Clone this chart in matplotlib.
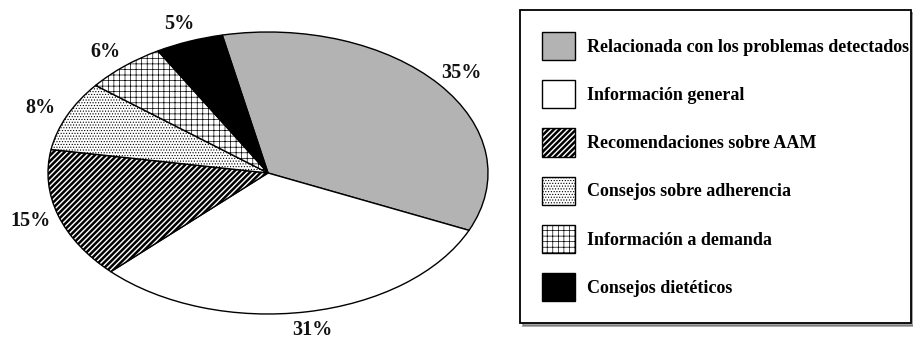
import matplotlib
matplotlib.use("Agg")
import matplotlib.pyplot as plt

# slices, clockwise from the top
categories = [
    "Relacionada con los problemas detectados",
    "Información general",
    "Recomendaciones sobre AAM",
    "Consejos sobre adherencia",
    "Información a demanda",
    "Consejos dietéticos",
]
values = [35, 31, 15, 8, 6, 5]
colours = ["#b3b3b3", "white", "white", "white", "white", "black"]
hatches = [None, None, "//////", "......", "+++", None]
hatch_widths = [1.0, 1.0, 1.8, 0.5, 0.5, 1.0]

SERIF = ["Liberation Serif", "DejaVu Serif"]

fig = plt.figure(figsize=(9.13, 3.4), dpi=100)
ax = fig.add_axes([0, 0, 510 / 913, 1])

wedges, texts, autotexts = ax.pie(
    values, startangle=102, counterclock=False, colors=colours,
    hatch=hatches, autopct=lambda p: "%.0f%%" % p, pctdistance=1.13,
    wedgeprops=dict(edgecolor="black", linewidth=1.0),
    textprops=dict(family=SERIF, fontweight="bold", fontsize=14.5, color="#111111"))

for w, hw in zip(wedges, hatch_widths):
    if hasattr(w, "set_hatch_linewidth"):
        w.set_hatch_linewidth(hw)

# squash the circle into the flat ellipse of the original
ax.set_aspect("auto")
ax.set_xlim(-268 / 220, 242 / 220)
ax.set_ylim(-167 / 141, 173 / 141)
ax.axis("off")

# legend box fills the right-hand side, with a drop shadow like the original
leg = fig.legend(wedges, categories, loc="upper left",
                 bbox_to_anchor=(520 / 913, 18 / 340, 391 / 913, 312 / 340),
                 mode="expand", prop=dict(family=SERIF, weight="bold", size=13),
                 handlelength=1.83, handleheight=2.02, handletextpad=0.67,
                 labelspacing=1.11, borderpad=1.22, borderaxespad=0.0,
                 frameon=True, fancybox=False, shadow=True)
leg.get_frame().set_edgecolor("black")
leg.get_frame().set_linewidth(1.3)
for h, hw in zip(leg.legend_handles, hatch_widths):
    if hasattr(h, "set_hatch_linewidth"):
        h.set_hatch_linewidth(hw)

fig.savefig("out.png", dpi=100)
